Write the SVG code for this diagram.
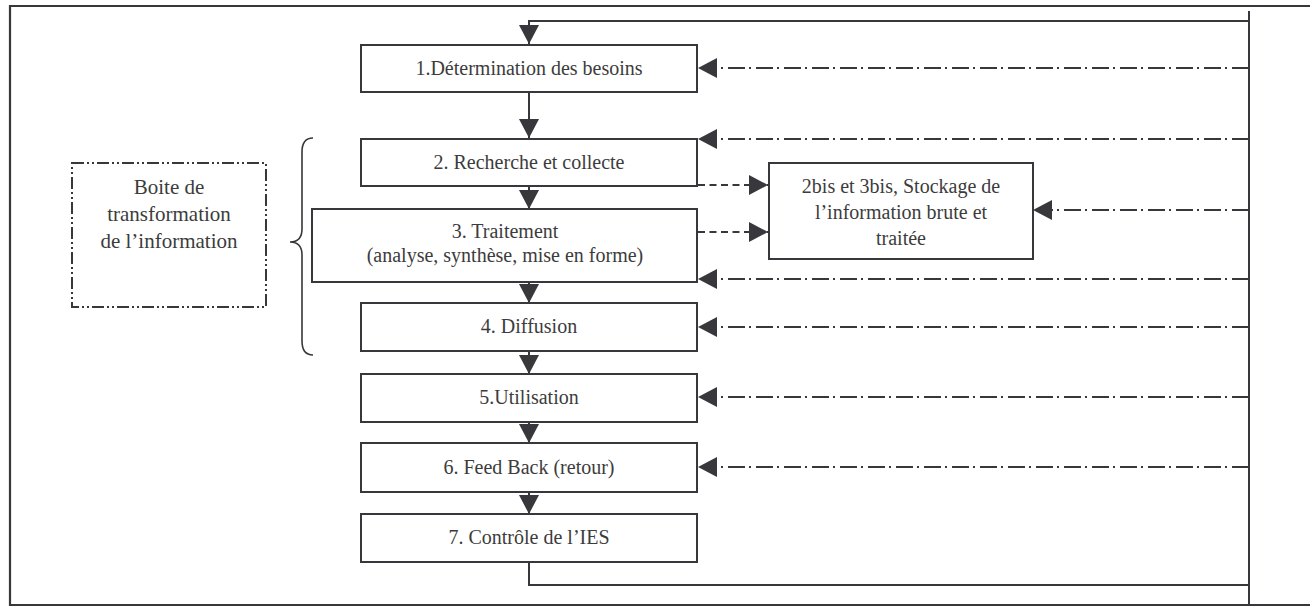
<svg xmlns="http://www.w3.org/2000/svg" width="1310" height="607" viewBox="0 0 1310 607">
  <defs>
    <marker id="head" markerUnits="userSpaceOnUse" markerWidth="20" markerHeight="20" refX="19" refY="10" orient="auto">
      <path d="M0,0 L19,10 L0,20 z" fill="#38383c"/>
    </marker>
    <style>
      .frame { fill: none; stroke: #38383c; stroke-width: 2.2; }
      .box { fill: #ffffff; stroke: #38383c; stroke-width: 2; }
      .label { font-family: "Liberation Serif", "Times New Roman", serif; font-size: 20px; fill: #3c3c3c; text-anchor: middle; }
      .flow { fill: none; stroke: #38383c; stroke-width: 2; }
      .feed { fill: none; stroke: #38383c; stroke-width: 2; stroke-dasharray: 17 5 2 4; }
      .store { fill: none; stroke: #38383c; stroke-width: 2; stroke-dasharray: 7 4.5; }
      .group { fill: none; stroke: #38383c; stroke-width: 2; stroke-dasharray: 12 3 2 3 2 3; }
      .brace { fill: none; stroke: #38383c; stroke-width: 1.6; }
    </style>
  </defs>

  <!-- outer frame (open on the right side) -->
  <path class="frame" d="M1310,6 L10,6 L10,605 L1310,605"/>

  <!-- connectors -->
  <g id="connectors">
    <!-- main return loop -->
    <path class="flow" d="M1249,11 L1249,605"/>
    <path class="flow" d="M529,562 L529,585 L1249,585"/>
    <path class="flow" d="M1249,21 L529,21 L529,44" marker-end="url(#head)"/>

    <!-- sequence of steps -->
    <path class="flow" d="M529,92 L529,138" marker-end="url(#head)"/>
    <path class="flow" d="M529,186 L529,209" marker-end="url(#head)"/>
    <path class="flow" d="M529,282 L529,303" marker-end="url(#head)"/>
    <path class="flow" d="M529,351 L529,374" marker-end="url(#head)"/>
    <path class="flow" d="M529,422 L529,443" marker-end="url(#head)"/>
    <path class="flow" d="M529,492 L529,514" marker-end="url(#head)"/>

    <!-- storage links -->
    <path class="store" d="M698,185 L768,185" marker-end="url(#head)"/>
    <path class="store" d="M698,232 L768,232" marker-end="url(#head)"/>

    <!-- control feedback -->
    <path class="feed" d="M1249,68 L698,68" marker-end="url(#head)"/>
    <path class="feed" d="M1249,139 L698,139" marker-end="url(#head)"/>
    <path class="feed" d="M1249,210 L1033,210" marker-end="url(#head)"/>
    <path class="feed" d="M1249,279 L698,279" marker-end="url(#head)"/>
    <path class="feed" d="M1249,327 L698,327" marker-end="url(#head)"/>
    <path class="feed" d="M1249,397 L698,397" marker-end="url(#head)"/>
    <path class="feed" d="M1249,467 L698,467" marker-end="url(#head)"/>
  </g>

  <g id="step1">
    <rect class="box" x="361" y="45" width="336" height="47"/>
    <text class="label" x="529" y="75">1.Détermination des besoins</text>
  </g>
  <g id="step2">
    <rect class="box" x="361" y="139" width="336" height="47"/>
    <text class="label" x="529" y="169">2. Recherche et collecte</text>
  </g>
  <g id="step3">
    <rect class="box" x="312" y="209" width="385" height="73"/>
    <text class="label" x="505" y="238">3. Traitement</text>
    <text class="label" x="505" y="262">(analyse, synthèse, mise en forme)</text>
  </g>
  <g id="step4">
    <rect class="box" x="361" y="303" width="336" height="48"/>
    <text class="label" x="529" y="333">4. Diffusion</text>
  </g>
  <g id="step5">
    <rect class="box" x="361" y="374" width="336" height="48"/>
    <text class="label" x="529" y="404">5.Utilisation</text>
  </g>
  <g id="step6">
    <rect class="box" x="361" y="443" width="336" height="49"/>
    <text class="label" x="529" y="474">6. Feed Back (retour)</text>
  </g>
  <g id="step7">
    <rect class="box" x="361" y="514" width="336" height="48"/>
    <text class="label" x="529" y="544">7. Contrôle de l’IES</text>
  </g>

  <g id="storage">
    <rect class="box" x="769" y="163" width="264" height="96"/>
    <text class="label" x="901" y="193">2bis et 3bis, Stockage de</text>
    <text class="label" x="901" y="219">l’information brute et</text>
    <text class="label" x="901" y="245">traitée</text>
  </g>

  <g id="transformation">
    <rect class="group" x="72" y="163" width="194" height="144"/>
    <text class="label" x="169" y="194" style="font-size:21px">Boite de</text>
    <text class="label" x="169" y="221" style="font-size:21px">transformation</text>
    <text class="label" x="169" y="248" style="font-size:21px">de l’information</text>
  </g>

  <g id="brace">
    <path class="brace" d="M313,138 Q302,138 302,152 L302,229 Q302,242 290,242 Q302,242 302,255 L302,341 Q302,355 313,355"/>
  </g>
</svg>
